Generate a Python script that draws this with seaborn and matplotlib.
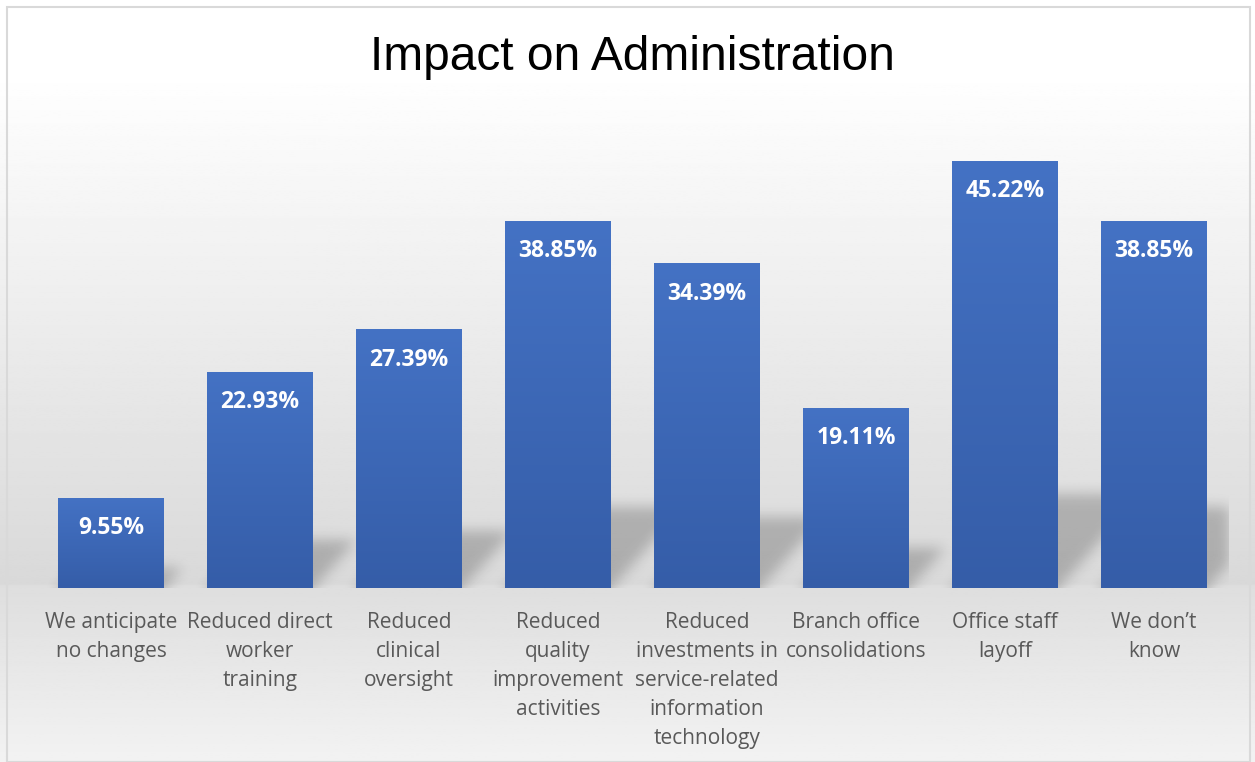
import numpy as np
import pandas as pd
import matplotlib
matplotlib.use("Agg")
import matplotlib.pyplot as plt
import seaborn as sns
from matplotlib.patches import Rectangle
from matplotlib.colors import LinearSegmentedColormap

categories = [
    "We anticipate\nno changes",
    "Reduced direct\nworker\ntraining",
    "Reduced\nclinical\noversight",
    "Reduced\nquality\nimprovement\nactivities",
    "Reduced\ninvestments in\nservice-related\ninformation\ntechnology",
    "Branch office\nconsolidations",
    "Office staff\nlayoff",
    "We don\u2019t\nknow",
]
values = [9.55, 22.93, 27.39, 38.85, 34.39, 19.11, 45.22, 38.85]
title = "Impact on Administration"

sns.set_theme(style="white")
plt.rcParams["font.family"] = ["Open Sans", "DejaVu Sans"]

W, H = 1255, 762
fig = plt.figure(figsize=(W / 100, H / 100), dpi=100)

# figure background gradient
bg = fig.add_axes([0, 0, 1, 1], zorder=-10)
yy = np.linspace(0, 1, 400)  # 0 = top
def shade(t):
    y = t * H
    if y < 70:
        return 1.0
    if y < 585:
        return 1.0 - (y - 70) / (585 - 70) * 0.15
    return 0.87 + (y - 585) / (762 - 585) * 0.08
col = np.array([shade(t) for t in yy])
img = np.repeat(col[:, None], 2, axis=1)
bg.imshow(img, cmap="gray", vmin=0, vmax=1, aspect="auto", extent=[0, 1, 1, 0])
bg.set_xlim(0, 1); bg.set_ylim(1, 0)
bg.axis("off")
fig.patches.append(Rectangle((7 / W, 0), (1250 - 7) / W, (H - 7) / H,
                             transform=fig.transFigure, fill=False,
                             edgecolor="#d9d9d9", linewidth=1.5, zorder=5))

ax_px_w, ax_px_h = 1228.5 - 36.5, 588 - 116
ax = fig.add_axes([36.5 / W, 1 - 588 / H, ax_px_w / W, ax_px_h / H])
ax.patch.set_alpha(0)
df = pd.DataFrame({"cat": categories, "val": values})
sns.barplot(data=df, x="cat", y="val", color="#4472C4", width=0.71,
            saturation=1, linewidth=0, edgecolor="none", ax=ax)
n = len(values)
ymax = 50

# soft perspective shadows (rasterised, blurred) behind the bars
pad = 25
nx, ny = int(ax_px_w), int(ax_px_h)
mask = np.zeros((ny + pad, nx))
px_per_x = nx / n
px_per_y = ny / ymax
cols = np.arange(nx)[None, :] + 0.5
rows = np.arange(ny + pad)[:, None] + 0.5 - pad  # 0 = baseline
for p in ax.patches:
    x0 = (p.get_x() + 0.5) * px_per_x
    x1 = (p.get_x() + p.get_width() + 0.5) * px_per_x
    hpx = p.get_height() * px_per_y
    kh = 0.22 * hpx
    shift = np.clip(rows, 0, None) * 0.9
    inside = (rows <= kh) & (cols >= x0 + shift) & (cols <= x1 + shift)
    mask = np.maximum(mask, inside.astype(float))
sig = 6.5
kx = np.arange(-20, 21)
kern = np.exp(-kx ** 2 / (2 * sig ** 2)); kern /= kern.sum()
mask = np.apply_along_axis(lambda r: np.convolve(r, kern, mode="same"), 1, mask)
mask = np.apply_along_axis(lambda c: np.convolve(c, kern, mode="same"), 0, mask)
mask = mask[pad:]
rgba = np.zeros((ny, nx, 4))
rgba[..., 3] = 0.21 * mask
ax.imshow(rgba[::-1], extent=[-0.5, n - 0.5, 0, ymax], aspect="auto",
          origin="upper", zorder=0.5, interpolation="bilinear")

# gradient fill on bars (lighter on top)
grad = np.linspace(0, 1, 256)[:, None]
cmap = LinearSegmentedColormap.from_list("b", ["#4472C4", "#355DA8"])
for p in ax.patches:
    x0, y0 = p.get_x(), p.get_y()
    w, h = p.get_width(), p.get_height()
    im = ax.imshow(grad, cmap=cmap, aspect="auto", origin="upper",
                   extent=[x0, x0 + w, y0, y0 + h], zorder=p.get_zorder() + 0.1)
    im.set_clip_path(p)
    ax.text(x0 + w / 2, y0 + h - 3.2, f"{p.get_height():.2f}%",
            ha="center", va="center", color="white", fontsize=16.5,
            fontweight="bold", zorder=10)
ax.set_xlim(-0.5, n - 0.5)
ax.set_ylim(0, ymax)

ax.set_xlabel(""); ax.set_ylabel("")
ax.set_yticks([])
ax.tick_params(axis="x", length=0, pad=17, labelsize=15, labelcolor="#595959")
for lab in ax.get_xticklabels():
    lab.set_linespacing(1.5)
    lab.set_verticalalignment("top")
for s in ax.spines.values():
    s.set_visible(False)

fig.text(632 / W, 1 - 57 / H, title, ha="center", va="center", fontsize=34.5,
         color="black", family=["Liberation Sans", "DejaVu Sans"])

fig.savefig("out.png", dpi=100)
